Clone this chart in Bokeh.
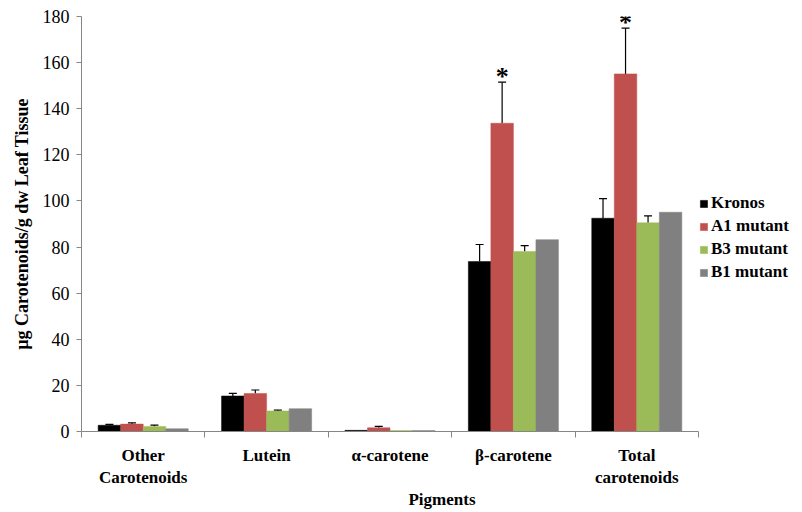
from bokeh.plotting import figure
from bokeh.models import (Range1d, FixedTicker, ColumnDataSource, Whisker, TeeHead,
                          Legend, LegendItem)
from bokeh.core.properties import value
from bokeh.embed import file_html
from bokeh.resources import INLINE

categories = ["Other\nCarotenoids", "Lutein", "α-carotene", "β-carotene", "Total\ncarotenoids"]
series_names = ["Kronos", "A1 mutant", "B3 mutant", "B1 mutant"]
kronos = [2.7, 15.4, 0.5, 73.7, 92.5]
kronos_err = [0.4, 1.1, 0.0, 7.4, 8.5]
a1_mutant = [3.2, 16.5, 1.6, 133.7, 155.1]
a1_mutant_err = [0.5, 1.5, 0.6, 17.8, 19.9]
b3_mutant = [2.2, 8.9, 0.4, 78.1, 90.5]
b3_mutant_err = [0.6, 0.4, 0.0, 2.5, 3.0]
b1_mutant = [1.2, 9.9, 0.4, 83.2, 95.1]
b1_mutant_err = [0.0, 0.0, 0.0, 0.0, 0.0]
a1_significance = ["", "", "", "*", "*"]
y_ticks = [0, 20, 40, 60, 80, 100, 120, 140, 160, 180]

colors = ["#000000", "#C0504D", "#9BBB59", "#808080"]
serif = "Liberation Serif"

values_all = [kronos, a1_mutant, b3_mutant, b1_mutant]
errs_all = [kronos_err, a1_mutant_err, b3_mutant_err, b1_mutant_err]

ncat = len(categories)
y_max = 180
W, H = 802, 512
left_border = 81
top_border = 16
bottom_border = 79
frame_w = W - left_border
axis_px = 617   # pixel length of the categorical axis
x_end = ncat * frame_w / axis_px

p = figure(width=W, height=H, output_backend="svg", toolbar_location=None,
           x_range=Range1d(0, x_end), y_range=Range1d(0, y_max),
           min_border_left=left_border, min_border_right=0, min_border_top=top_border,
           min_border_bottom=bottom_border)
p.outline_line_color = None
p.grid.visible = False
p.background_fill_color = "white"
p.border_fill_color = "white"

bar_w = 0.1825
n = len(series_names)
items = []
for si, (name, vals, errs, col) in enumerate(zip(series_names, values_all, errs_all, colors)):
    off = (si - (n - 1) / 2) * bar_w
    xs = [i + 0.5 + off for i in range(ncat)]
    src = ColumnDataSource(dict(x=xs, top=vals))
    r = p.vbar(x="x", top="top", bottom=0, width=bar_w, source=src, fill_color=col,
               line_color=col, line_width=0.5)
    items.append(LegendItem(label=name, renderers=[r]))
    ex = [x for x, e in zip(xs, errs) if e > 0]
    lo = [v for v, e in zip(vals, errs) if e > 0]
    hi = [v + e for v, e in zip(vals, errs) if e > 0]
    if ex:
        esrc = ColumnDataSource(dict(x=ex, lo=lo, hi=hi))
        w = Whisker(base="x", lower="lo", upper="hi", source=esrc, dimension="height",
                    lower_head=None, upper_head=TeeHead(size=8, line_color="black", line_width=1.2),
                    line_color="black", line_width=1.2)
        p.add_layout(w)
    if si == 1:
        sx = [x for x, s in zip(xs, a1_significance) if s]
        sy = [v + e for v, e, s in zip(vals, errs, a1_significance) if s]
        st = [s for s in a1_significance if s]
        p.text(x=sx, y=sy, text=st, text_align="center", text_baseline="alphabetic",
               y_offset=-6, text_font=value(serif), text_font_style="bold", text_font_size="26px",
               text_color="black")

# axes
ya = p.yaxis[0]
ya.ticker = FixedTicker(ticks=y_ticks, minor_ticks=[])
ya.axis_line_color = "#868686"
ya.major_tick_line_color = "#868686"
ya.major_tick_out = 5
ya.major_tick_in = 0
ya.major_label_text_font = serif
ya.major_label_text_font_size = "18px"
ya.major_label_text_color = "black"
ya.major_label_standoff = 7
ya.axis_label = "µg Carotenoids/g dw Leaf Tissue"
ya.axis_label_text_font = serif
ya.axis_label_text_font_style = "bold"
ya.axis_label_text_font_size = "18px"
ya.axis_label_text_color = "black"
ya.axis_label_standoff = 8

xa = p.xaxis[0]
centers = [i + 0.5 for i in range(ncat)]
xa.bounds = (0, ncat)
xa.ticker = FixedTicker(ticks=centers, minor_ticks=list(range(ncat + 1)))
xa.major_label_overrides = {c: lab for c, lab in zip(centers, categories)}
xa.axis_line_color = "#868686"
xa.major_tick_out = 0
xa.major_tick_in = 0
xa.minor_tick_line_color = "#868686"
xa.minor_tick_out = 6
xa.minor_tick_in = 0
xa.major_label_text_font = serif
xa.major_label_text_font_style = "bold"
xa.major_label_text_font_size = "17px"
xa.major_label_text_color = "black"
xa.major_label_text_line_height = 1.2
xa.major_label_standoff = 8
xa.axis_label = "Pigments"
xa.axis_label_text_font = serif
xa.axis_label_text_font_style = "bold"
xa.axis_label_text_font_size = "17px"
xa.axis_label_text_color = "black"
xa.axis_label_standoff = 0

legend = Legend(items=items, location=(618, 149), orientation="vertical")
legend.label_text_font = serif
legend.label_text_font_style = "bold"
legend.label_text_font_size = "17px"
legend.label_text_color = "black"
legend.glyph_width = 9
legend.glyph_height = 9
legend.label_standoff = 3
legend.label_height = 17
legend.spacing = 3
legend.padding = 0
legend.margin = 0
legend.border_line_color = None
legend.background_fill_alpha = 0
p.add_layout(legend)

open("out.html", "w").write(file_html(p, INLINE))
